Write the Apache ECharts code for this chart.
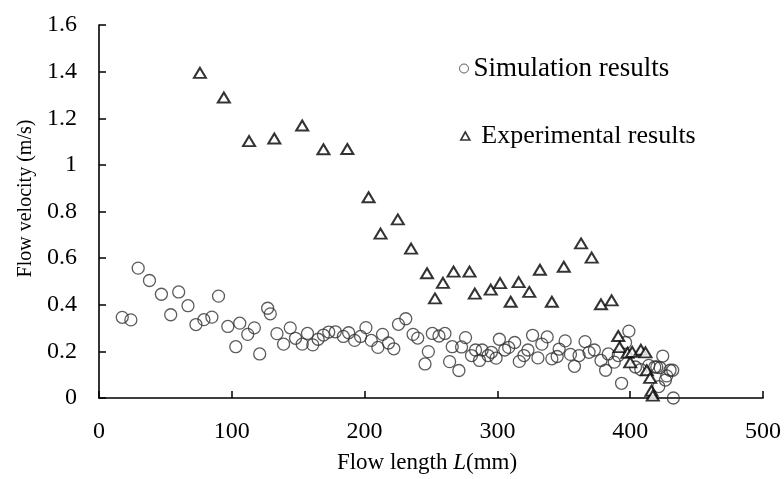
<!DOCTYPE html>
<html>
<head>
<meta charset="utf-8">
<script src="https://cdn.jsdelivr.net/npm/echarts@6/dist/echarts.min.js"></script>
<style>html,body{margin:0;padding:0;background:#fff}#c{width:784px;height:479px}</style>
</head>
<body>
<div id="c"></div>
<script>
// Simulation results: [flow length (mm), flow velocity (m/s)]
const simulation = [
[17.5,0.346],[24,0.335],[29.5,0.557],[38,0.504],[47,0.445],[54,0.357],[60,0.455],[67,0.396],
[73,0.315],[79,0.336],[85,0.347],[90,0.437],[97,0.307],[103,0.22],[106,0.321],[112,0.273],
[117,0.301],[121,0.189],[127,0.385],[129,0.361],[134,0.276],[139,0.231],[144,0.301],[148,0.256],
[153,0.231],[157,0.277],[161,0.228],[165,0.252],[169,0.27],[173,0.283],[178,0.284],[184,0.264],
[188,0.28],[192.5,0.247],[197,0.264],[201,0.302],[205,0.247],[210,0.217],[213.5,0.273],[218,0.236],
[222,0.211],[225.5,0.316],[231,0.34],[236.5,0.273],[240,0.257],[245.5,0.146],[248,0.199],[251,0.277],
[256,0.266],[260.5,0.277],[264,0.156],[266,0.22],[271,0.118],[273,0.219],[276,0.259],[280.5,0.182],
[283.5,0.206],[286.5,0.161],[288.5,0.206],[293,0.182],[295.5,0.196],[299,0.171],[301.5,0.252],[305.5,0.206],
[308.5,0.217],[313,0.238],[316.5,0.157],[320,0.182],[323,0.206],[326.5,0.269],[330.5,0.172],[333.5,0.231],
[337.5,0.262],[341,0.168],[345,0.178],[346.5,0.21],[351,0.245],[355,0.187],[358,0.136],[361.5,0.182],
[366,0.242],[369,0.196],[373,0.206],[378,0.161],[381.5,0.119],[383.5,0.189],[388,0.154],[391,0.182],
[393.5,0.063],[396.5,0.238],[399,0.287],[404,0.133],[408,0.122],[414,0.14],[418.5,0.133],[420,0.133],
[421.5,0.049],[422.5,0.13],[424.5,0.18],[426.5,0.077],[427.5,0.095],[430,0.119],[432,0.119],[432.5,0]
];
// Experimental results
const experimental = [
[76,1.395],[94,1.289],[113,1.102],[132,1.113],[153,1.169],[169,1.067],[187,1.068],[203,0.861],
[212,0.705],[225,0.766],[235,0.641],[247,0.535],[253,0.427],[259,0.494],[267,0.542],[279,0.542],
[283,0.448],[295,0.465],[302,0.493],[310,0.413],[316,0.497],[324,0.455],[332,0.55],[341,0.413],
[350,0.563],[363,0.663],[371,0.602],[378,0.402],[386,0.419],[391,0.266],[392,0.218],[398,0.194],
[400,0.153],[401.5,0.198],[408,0.207],[411.5,0.196],[412.5,0.119],[415,0.086],[416,0.031],[417,0.01]
];
const xTicks = {min: 0, max: 500, interval: 100};
const yTicks = {min: 0, max: 1.6, interval: 0.2};
const seriesNames = ['Simulation results', 'Experimental results'];

const font = '"Liberation Serif", "Times New Roman", serif';
const chart = echarts.init(document.getElementById('c'));
chart.setOption({
  animation: false,
  backgroundColor: '#fff',
  grid: {left: 99, right: 18, top: 25, bottom: 74, containLabel: false},
  legend: [
    {data: [seriesNames[0]], left: 454, top: 50, orient: 'vertical', itemWidth: 9, itemHeight: 9,
     icon: 'circle', itemGap: 0,
     itemStyle: {color: 'rgba(0,0,0,0)', borderColor: '#333', borderWidth: 1},
     textStyle: {fontFamily: font, fontSize: 27, color: '#000'}},
    {data: [seriesNames[1]], left: 455, top: 118, orient: 'vertical', itemWidth: 9, itemHeight: 8,
     icon: 'triangle', itemGap: 0, formatter: ' {name}',
     itemStyle: {color: '#fff', borderColor: '#000', borderWidth: 1.6},
     textStyle: {fontFamily: font, fontSize: 26, color: '#000'}}
  ],
  xAxis: {
    type: 'value', min: xTicks.min, max: xTicks.max, interval: xTicks.interval,
    name: 'Flow length {i|L}(mm)', nameLocation: 'middle', nameGap: 53,
    nameTextStyle: {fontFamily: font, fontSize: 23, color: '#000', padding: [0, 8, 0, 0],
      rich: {i: {fontFamily: font, fontSize: 23, fontStyle: 'italic', color: '#000'}}},
    axisLine: {show: true, lineStyle: {color: '#000', width: 1.6}},
    axisTick: {show: true, inside: true, length: 7, lineStyle: {color: '#000', width: 1.5}},
    axisLabel: {fontFamily: font, fontSize: 24, color: '#000', margin: 22},
    splitLine: {show: false}
  },
  yAxis: {
    type: 'value', min: yTicks.min, max: yTicks.max, interval: yTicks.interval,
    name: 'Flow velocity (m/s)', nameLocation: 'middle', nameGap: 62,
    nameTextStyle: {fontFamily: font, fontSize: 20, color: '#000', padding: [0, 0, 0, 26]},
    axisLine: {show: true, lineStyle: {color: '#000', width: 1.6}},
    axisTick: {show: true, inside: true, length: 7, lineStyle: {color: '#000', width: 1.5}},
    axisLabel: {fontFamily: font, fontSize: 24, color: '#000', margin: 22},
    splitLine: {show: false}
  },
  series: [
    {name: seriesNames[0], type: 'scatter', data: simulation, symbol: 'circle', symbolSize: 12, z: 2,
     itemStyle: {color: 'rgba(0,0,0,0)', borderColor: '#333', borderWidth: 1.3}},
    {name: seriesNames[1], type: 'scatter', data: experimental, symbol: 'triangle', symbolSize: [12, 10], z: 3,
     itemStyle: {color: '#fff', borderColor: '#000', borderWidth: 2}}
  ]
});
</script>
</body>
</html>
